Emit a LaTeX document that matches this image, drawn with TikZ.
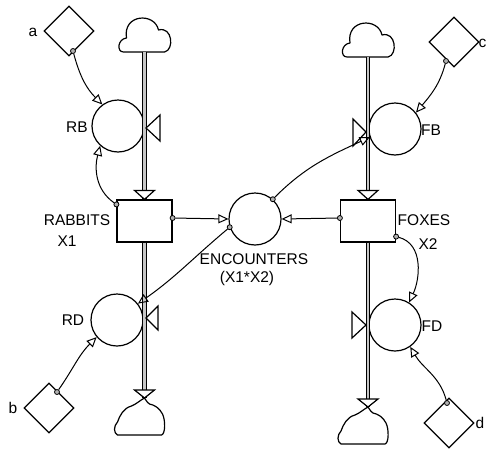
\documentclass[tikz,border=0pt]{standalone}
\usepackage{fontspec}
\setmainfont{Liberation Sans}
\usetikzlibrary{shapes.geometric,arrows.meta}
\begin{document}
\begin{tikzpicture}[x=1pt,y=1pt,
  lbl/.style={font=\fontsize{15.5}{17}\selectfont,inner sep=0pt},
  aux/.style={circle,draw,line width=1.2pt,minimum size=52pt,inner sep=0pt},
  stock/.style={rectangle,draw,line width=1.2pt,minimum width=55pt,minimum height=42pt,inner sep=0pt},
  dia/.style={diamond,draw,line width=1.2pt,minimum width=50pt,minimum height=50pt,inner sep=0pt},
  dot/.style={circle,draw,fill=gray!60,line width=0.8pt,minimum size=5pt,inner sep=0pt},
  conn/.style={line width=1pt,-{Triangle[open,length=10pt,width=9pt,line width=1pt]}},
  pipe/.style={line width=1.1pt,double=gray!45,double distance=2.6pt},
  tri/.style={draw,fill=white,line width=1.2pt,line join=miter},
  cloudtop/.pic={\draw[line width=1.2pt,fill=white,line join=round]
     (-21,0) .. controls (-28,0) and (-27,13) .. (-18,14)
     .. controls (-22,38) and (10,40) .. (14,22)
     .. controls (28,26) and (30,2) .. (20,0) -- cycle;},
  cloudbot/.pic={\draw[line width=1.2pt,fill=white,line join=round]
     (0,0) .. controls (-4,-2) and (-8,-6) .. (-13,-8)
     .. controls (-21,-10) and (-25,-18) .. (-27,-24)
     .. controls (-31,-28) and (-31,-35) .. (-27,-37) -- (17,-37)
     .. controls (21,-36) and (21,-22) .. (18,-16)
     .. controls (15,-10) and (10,-7) .. (5,-6)
     .. controls (2,-4) and (1,-1) .. (0,0) -- cycle;}
]
\useasboundingbox (0,0) rectangle (487,-450);

% clouds
\coordinate (cRT) at (144.5,-52);
\coordinate (cRB) at (144.5,-398);
\coordinate (cFT) at (368,-57);
\coordinate (cFB) at (368,-407);
\pic at (cRT) {cloudtop};
\pic at (cFT) {cloudtop};
\pic at (cRB) {cloudbot};
\pic at (cFB) {cloudbot};

% auxiliaries
\node[aux] (RB) at (118,-126) {};
\node[aux] (RD) at (117,-320) {};
\node[aux] (FB) at (395,-129) {};
\node[aux] (FD) at (395,-325) {};
\node[aux] (ENC) at (255,-219) {};

% stocks
\node[stock] (R) at (144.5,-221) {};
\node[stock] (F) at (368,-221) {};

% constants
\node[dia] (a) at (69,-31) {};
\node[dia] (b) at (49,-408) {};
\node[dia] (c) at (454,-42) {};
\node[dia] (d) at (449,-423) {};

% pipes
\draw[pipe] (cRT) -- (R.north);
\draw[pipe] (R.south) -- (cRB);
\draw[pipe] (cFT) -- (F.north);
\draw[pipe] (F.south) -- (cFB);

% flow arrows
\draw[tri] (R.north) -- ++(-10,9) -- ++(20,0) -- cycle;
\draw[tri] (F.north) -- ++(-10,9) -- ++(20,0) -- cycle;
\draw[tri] (cRB) -- ++(-10,8) -- ++(20,0) -- cycle;
\draw[tri] (cFB) -- ++(-10,8) -- ++(20,0) -- cycle;

% valves
\draw[tri] (146,-128) -- (160,-115) -- (160,-141) -- cycle;
\draw[tri] (146,-318) -- (158,-306) -- (158,-330) -- cycle;
\draw[tri] (366,-132) -- (353,-119) -- (353,-146) -- cycle;
\draw[tri] (366,-325) -- (352,-312) -- (352,-338) -- cycle;

% connector origins
\node[dot] (dA) at (73,-51) {};
\node[dot] (dB) at (57,-392) {};
\node[dot] (dC) at (446,-61) {};
\node[dot] (dD) at (447,-403) {};
\node[dot] (dR1) at ([yshift=-5pt]R.north west) {};
\node[dot] (dR2) at ([yshift=3pt]R.east) {};
\node[dot] (dF1) at ([yshift=3pt]F.west) {};
\node[dot] (dF2) at ([yshift=6pt]F.south east) {};
\node[dot] (dE1) at (ENC.48) {};
\node[dot] (dE2) at (ENC.198) {};

% connectors
\draw[conn] (dA) to[out=-75,in=135] (RB.126);
\draw[conn] (dR1) to[out=145,in=255] (RB.228);
\draw[conn] (dR2) -- (ENC.west);
\draw[conn] (dF1) -- (ENC.east);
\draw[conn] (dE1) to[out=45,in=205] (FB.198);
\draw[conn] (dE2) to[out=220,in=35] (RD.38);
\draw[conn] (dF2) to[out=-15,in=65] (FD.58);
\draw[conn] (dC) to[out=-105,in=50] (FB.38);
\draw[conn] (dD) to[out=105,in=-60] (FD.-55);
\draw[conn] (dB) to[out=55,in=225] (RD.220);

% labels
\node[lbl] (la) at (33,-32) {a};
\node[lbl] (lb) at (13,-408) {b};
\node[lbl,anchor=east] (lc) at (486.5,-43) {c};
\node[lbl] (ld) at (480,-423) {d};
\node[lbl] (lRB) at (77,-127) {RB};
\node[lbl] (lRD) at (73,-320) {RD};
\node[lbl] (lFB) at (431,-130) {FB};
\node[lbl] (lFD) at (432,-326) {FD};
\node[lbl] (lR1) at (77,-220) {RABBITS};
\node[lbl] (lR2) at (67,-241) {X1};
\node[lbl] (lF1) at (424,-220) {FOXES};
\node[lbl] (lF2) at (428,-244) {X2};
\node[lbl] (lE1) at (254,-259) {ENCOUNTERS};
\node[lbl] (lE2) at (247,-278) {(X1*X2)};
\end{tikzpicture}
\end{document}
